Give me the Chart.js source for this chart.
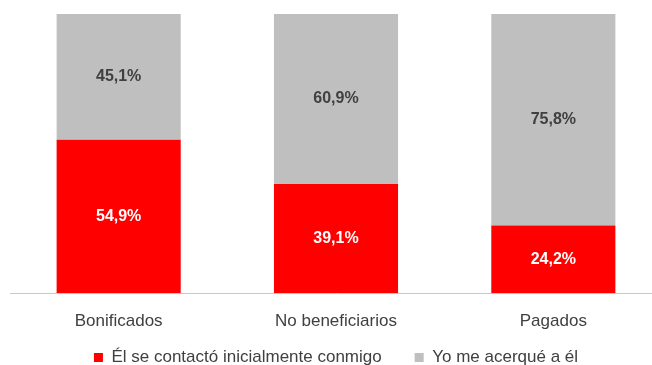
<!DOCTYPE html>
<html>
<head>
<meta charset="utf-8">
<script src="https://cdn.jsdelivr.net/npm/chart.js@4"></script>
<style>
  html, body { margin: 0; padding: 0; background: #fff; overflow: hidden; }
  #wrap { width: 662px; height: 365px; }
</style>
</head>
<body>
<div id="wrap"><canvas id="chart" width="662" height="365"></canvas></div>
<script>
const categories = ['Bonificados', 'No beneficiarios', 'Pagados'];
const contactoEl = [54.9, 39.1, 24.2];
const meAcerque = [45.1, 60.9, 75.8];
const seriesNames = ['Él se contactó inicialmente conmigo', 'Yo me acerqué a él'];

const fontFamily = "'Liberation Sans', Arial, sans-serif";

// values written inside each bar segment
const barLabels = {
    id: 'barLabels',
    afterDatasetsDraw(chart) {
        const ctx = chart.ctx;
        ctx.save();
        ctx.font = 'bold 16px ' + fontFamily;
        ctx.textAlign = 'center';
        ctx.textBaseline = 'middle';
        chart.data.datasets.forEach((ds, i) => {
            chart.getDatasetMeta(i).data.forEach((bar, j) => {
                const mid = (bar.y + bar.base) / 2;
                ctx.fillStyle = i === 0 ? '#ffffff' : '#404040';
                ctx.fillText(ds.data[j].toFixed(1).replace('.', ',') + '%', bar.x, mid);
            });
        });
        ctx.restore();
    }
};

const ctx = document.getElementById('chart').getContext('2d');
new Chart(ctx, {
    type: 'bar',
    data: {
        labels: categories,
        datasets: [
            { label: seriesNames[0], data: contactoEl, backgroundColor: '#ff0000' },
            { label: seriesNames[1], data: meAcerque, backgroundColor: '#bfbfbf' }
        ]
    },
    options: {
        responsive: false,
        animation: false,
        layout: { padding: { top: 14, left: 10, right: 0, bottom: -11 } },
        datasets: { bar: { barPercentage: 1, categoryPercentage: 0.571 } },
        scales: {
            x: {
                stacked: true,
                grid: { display: false, drawTicks: false },
                border: { color: '#c8c8c8', width: 1 },
                // mirror + negative padding keeps labels below the axis without clipping
                ticks: { color: '#404040', font: { family: fontFamily, size: 17 }, mirror: true, padding: -39, autoSkip: false, maxRotation: 0 },
                afterFit(scale) { scale.height = 23; }
            },
            y: {
                stacked: true,
                display: false,
                min: 0,
                max: 100
            }
        },
        plugins: {
            legend: {
                position: 'bottom',
                labels: {
                    color: '#404040',
                    font: { family: fontFamily, size: 17 },
                    boxWidth: 9,
                    boxHeight: 9,
                    padding: 33
                }
            },
            tooltip: { enabled: false }
        }
    },
    plugins: [barLabels]
});
</script>
</body>
</html>
